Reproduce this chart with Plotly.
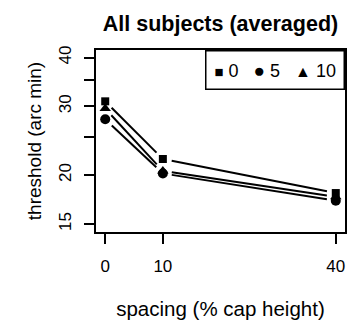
import numpy as np
import plotly.graph_objects as go

# ---- data ----
spacing = [0, 10, 40]
thr_cap0 = [30.9, 22.0, 18.0]
thr_cap5 = [27.8, 20.2, 17.2]
thr_cap10 = [29.6, 20.5, 17.6]
series_names = ["0", "5", "10"]
ytick_vals = [15, 20, 25, 30, 35, 40]
ytick_text = ["15", "20", "", "30", "", "40"]
xtick_vals = [0, 10, 40]

# ---- layout constants ----
W, H = 351, 322
M = dict(l=96, r=6, t=50, b=90)
XR = [-1.6, 41.6]
YR = [1.1556, 1.6213]
pw = W - M["l"] - M["r"]
ph = H - M["t"] - M["b"]
sx = pw / (XR[1] - XR[0])
sy = ph / (YR[1] - YR[0])
GAP = 9  # pixel gap between line ends and points (R type="b")
FONT = "Liberation Sans, Arial, sans-serif"


def gapped(xs, ys):
    ox, oy = [], []
    for i in range(len(xs) - 1):
        x1, x2 = xs[i], xs[i + 1]
        l1, l2 = np.log10(ys[i]), np.log10(ys[i + 1])
        L = np.hypot((x2 - x1) * sx, (l2 - l1) * sy)
        f = GAP / L
        ox += [x1 + f * (x2 - x1), x2 - f * (x2 - x1), None]
        oy += [10 ** (l1 + f * (l2 - l1)), 10 ** (l2 - f * (l2 - l1)), None]
    return ox, oy


series = [thr_cap0, thr_cap5, thr_cap10]
symbols = ["square", "circle", "triangle-up"]
sizes = [8, 10, 10]

fig = go.Figure()
for name, ys in zip(series_names, series):
    lx, ly = gapped(spacing, ys)
    fig.add_trace(go.Scatter(x=lx, y=ly, mode="lines",
                             line=dict(color="black", width=2),
                             showlegend=False, hoverinfo="skip"))
for name, ys, sym, sz in zip(series_names, series, symbols, sizes):
    fig.add_trace(go.Scatter(x=spacing, y=ys, mode="markers", name=name,
                             marker=dict(symbol=sym, size=sz, color="black",
                                         line=dict(width=0)),
                             showlegend=False))

sym_chars = ["■", "●", "▲"]
sym_sizes = [15, 19, 16]
parts = []
for ch, ssz, nm in zip(sym_chars, sym_sizes, series_names):
    parts.append(f'<span style="font-size:{ssz}px">{ch}</span> {nm}')
legend_text = "   ".join(parts)

fig.add_annotation(xref="paper", yref="paper", x=1, y=1,
                   xanchor="right", yanchor="top", showarrow=False,
                   text=legend_text, font=dict(family=FONT, size=18, color="black"),
                   bordercolor="black", borderwidth=1.5, borderpad=8,
                   bgcolor="white")

fig.update_layout(
    width=W, height=H, margin=M,
    paper_bgcolor="white", plot_bgcolor="white",
    font=dict(family=FONT, color="black"),
    title=dict(text="<b>All subjects (averaged)</b>", font=dict(size=21.5, family=FONT),
               x=0.5, xref="paper", xanchor="center",
               y=1 - 23 / H, yref="container", yanchor="middle"),
    showlegend=False,
)
fig.update_xaxes(range=XR, tickvals=xtick_vals, ticktext=[str(v) for v in xtick_vals],
                 automargin=False,
                 showline=True, mirror=True, linecolor="black", linewidth=2,
                 ticks="outside", ticklen=10, tickwidth=1.5, tickcolor="black",
                 showgrid=False, zeroline=False, tickfont=dict(size=17),
                 ticklabelstandoff=8,
                 title=dict(text="spacing (% cap height)", font=dict(size=20.5), standoff=26))
fig.update_yaxes(type="log", range=YR, tickvals=ytick_vals, ticktext=ytick_text,
                 automargin=False, tickangle=-90,
                 showline=True, mirror=True, linecolor="black", linewidth=2,
                 ticks="outside", ticklen=10, tickwidth=1.5, tickcolor="black",
                 showgrid=False, zeroline=False, tickfont=dict(size=17),
                 ticklabelstandoff=6,
                 title=dict(text="threshold (arc min)", font=dict(size=19), standoff=10))

fig.write_html("out.html")
